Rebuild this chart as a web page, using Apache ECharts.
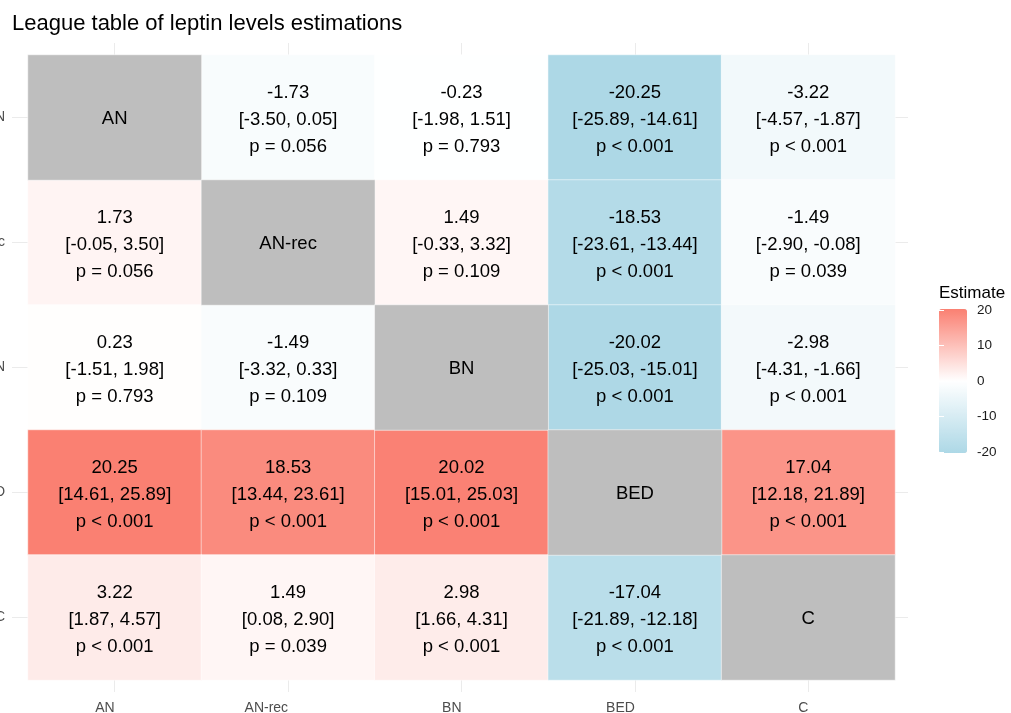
<!DOCTYPE html>
<html>
<head>
<meta charset="utf-8">
<script src="https://cdn.jsdelivr.net/npm/echarts@6/dist/echarts.min.js"></script>
<style>
  html, body { margin: 0; padding: 0; background: #fff; }
  #chart { width: 1011px; height: 713px; }
</style>
</head>
<body>
<div id="chart"></div>
<script>
// treatments, top row to bottom row / left column to right column
const treatments = ["AN", "AN-rec", "BN", "BED", "C"];

// estimate[row][col], null on the diagonal
const estimate = [
  [null, -1.73, -0.23, -20.25, -3.22],
  [1.73, null, 1.49, -18.53, -1.49],
  [0.23, -1.49, null, -20.02, -2.98],
  [20.25, 18.53, 20.02, null, 17.04],
  [3.22, 1.49, 2.98, -17.04, null],
];
const lower = [
  [null, -3.5, -1.98, -25.89, -4.57],
  [-0.05, null, -0.33, -23.61, -2.9],
  [-1.51, -3.32, null, -25.03, -4.31],
  [14.61, 13.44, 15.01, null, 12.18],
  [1.87, 0.08, 1.66, -21.89, null],
];
const upper = [
  [null, 0.05, 1.51, -14.61, -1.87],
  [3.5, null, 3.32, -13.44, -0.08],
  [1.98, 0.33, null, -15.01, -1.66],
  [25.89, 23.61, 25.03, null, 21.89],
  [4.57, 2.9, 4.31, -12.18, null],
];
const pLabels = [
  [null, "= 0.056", "= 0.793", "< 0.001", "< 0.001"],
  ["= 0.056", null, "= 0.109", "< 0.001", "= 0.039"],
  ["= 0.793", "= 0.109", null, "< 0.001", "< 0.001"],
  ["< 0.001", "< 0.001", "< 0.001", null, "< 0.001"],
  ["< 0.001", "= 0.039", "< 0.001", "< 0.001", null],
];
const legendTicks = [-20, -10, 0, 10, 20];

const FONT = "'Liberation Sans', Arial, Helvetica, sans-serif";

// build heatmap data
const cellData = [];
const diagData = [];
treatments.forEach((t, r) => {
  treatments.forEach((t2, c) => {
    if (r === c) diagData.push([c, r, 0]);
    else cellData.push([c, r, estimate[r][c]]);
  });
});

const chart = echarts.init(document.getElementById("chart"));

const gridTick = (len) => ({
  show: true,
  alignWithLabel: true,
  length: len,
  lineStyle: { color: "#EBEBEB", width: 1 },
});

const option = {
  animation: false,
  backgroundColor: "#fff",
  textStyle: { fontFamily: FONT },
  title: [
    {
      text: "League table of leptin levels estimations",
      left: 7,
      top: 8,
      textStyle: { fontSize: 22, fontWeight: "normal", color: "#000", fontFamily: FONT },
    },
    {
      text: "Estimate",
      left: 934,
      top: 280,
      textStyle: { fontSize: 17, fontWeight: "normal", color: "#000", fontFamily: FONT },
    },
  ],
  grid: [
    { left: 28, right: 116, top: 55, bottom: 33, containLabel: false, outerBoundsMode: "none" },
    { left: 939, top: 310, width: 28, height: 142, containLabel: false, outerBoundsMode: "none" },
  ],
  xAxis: [
    {
      type: "category",
      gridIndex: 0,
      data: treatments,
      position: "bottom",
      axisLine: { show: false },
      axisTick: gridTick(12),
      axisLabel: { margin: 21, fontSize: 14, color: "#4D4D4D", fontFamily: FONT, align: "right" },
      splitLine: { show: false },
    },
    {
      type: "category",
      gridIndex: 0,
      data: treatments,
      position: "top",
      axisLine: { show: false },
      axisTick: gridTick(12),
      axisLabel: { show: false },
    },
    { type: "value", gridIndex: 1, show: false, min: 0, max: 1 },
  ],
  yAxis: [
    {
      type: "category",
      gridIndex: 0,
      data: treatments,
      inverse: true,
      position: "left",
      axisLine: { show: false },
      axisTick: gridTick(16),
      axisLabel: { margin: 23, fontSize: 14, color: "#4D4D4D", fontFamily: FONT },
      splitLine: { show: false },
    },
    {
      type: "category",
      gridIndex: 0,
      data: treatments,
      inverse: true,
      position: "right",
      axisLine: { show: false },
      axisTick: gridTick(13),
      axisLabel: { show: false },
    },
    {
      type: "value",
      gridIndex: 1,
      position: "right",
      min: -20,
      max: 20,
      interval: 10,
      z: 10,
      axisLine: { show: false },
      axisTick: { show: true, inside: true, length: 5, lineStyle: { color: "#fff", width: 1 } },
      axisLabel: { margin: 10, fontSize: 13.5, color: "#1A1A1A", fontFamily: FONT,
        customValues: legendTicks },
      splitLine: { show: false },
    },
    {
      type: "value",
      gridIndex: 1,
      position: "left",
      min: -20,
      max: 20,
      interval: 10,
      z: 10,
      axisLine: { show: false },
      axisTick: { show: true, inside: true, length: 5, lineStyle: { color: "#fff", width: 1 } },
      axisLabel: { show: false },
      splitLine: { show: false },
    },
  ],
  visualMap: {
    type: "continuous",
    seriesIndex: 0,
    min: -20.25,
    max: 20.25,
    calculable: false,
    orient: "vertical",
    left: 939,
    top: 309,
    padding: 0,
    itemWidth: 28,
    itemHeight: 144,
    text: null,
    showLabel: false,
    inRange: { color: ["#ADD8E6", "#FFFFFF", "#FA8072"] },
  },
  series: [
    {
      type: "heatmap",
      xAxisIndex: 0,
      yAxisIndex: 0,
      data: cellData,
      itemStyle: { borderColor: "rgba(255,255,255,0.5)", borderWidth: 1 },
      label: {
        show: true,
        fontSize: 18.5,
        lineHeight: 27,
        offset: [0, 2],
        color: "#000",
        fontFamily: FONT,
        formatter: (p) => {
          const [c, r, v] = p.data;
          return v.toFixed(2) + "\n[" + lower[r][c].toFixed(2) + ", " +
            upper[r][c].toFixed(2) + "]\np " + pLabels[r][c];
        },
      },
      emphasis: { disabled: true },
    },
    {
      type: "heatmap",
      xAxisIndex: 0,
      yAxisIndex: 0,
      data: diagData,
      itemStyle: { color: "#BEBEBE", borderColor: "rgba(255,255,255,0.5)", borderWidth: 1 },
      label: {
        show: true,
        fontSize: 18.5,
        offset: [0, 1],
        color: "#000",
        fontFamily: FONT,
        formatter: (p) => treatments[p.data[0]],
      },
      emphasis: { disabled: true },
    },
  ],
};

chart.setOption(option);
</script>
</body>
</html>
